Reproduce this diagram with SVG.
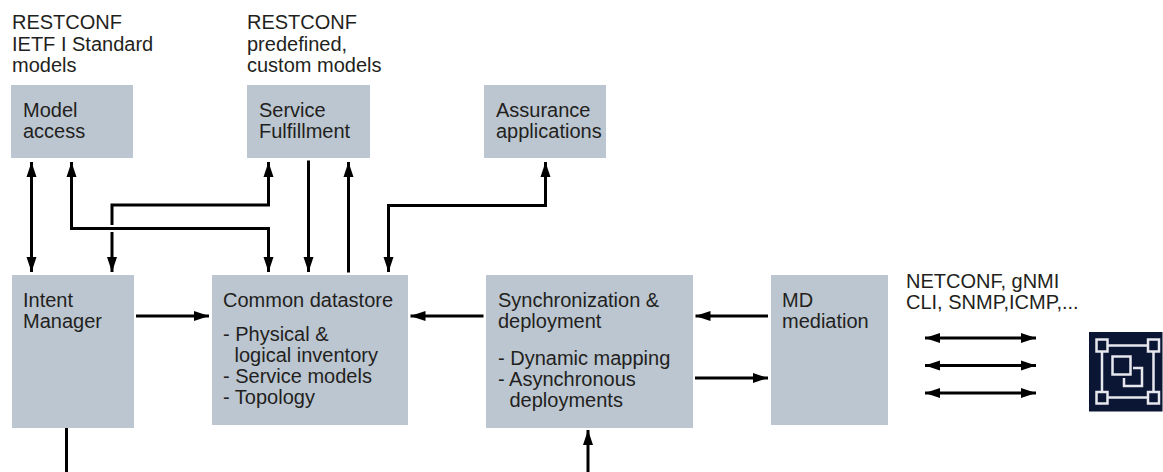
<svg xmlns="http://www.w3.org/2000/svg" width="1163" height="472" viewBox="0 0 1163 472">
<style>
.box{fill:#bbc6d1}
text{font-family:"Liberation Sans",Arial,sans-serif;font-size:20px;fill:#231f20}
.c{fill:none;stroke:#000;stroke-width:3}
.i{fill:none;stroke:#e6e8ee;stroke-width:2.500}
</style>
<defs>
<marker id="e" markerUnits="userSpaceOnUse" markerWidth="15" markerHeight="11" refX="15" refY="5.500" orient="auto"><path d="M0 0.500L15 5.500L0 10.500Z" fill="#000"/></marker>
<marker id="s" markerUnits="userSpaceOnUse" markerWidth="15" markerHeight="11" refX="0" refY="5.500" orient="auto"><path d="M15 0.500L0 5.500L15 10.500Z" fill="#000"/></marker>
</defs>
<text x="12" y="29">RESTCONF</text><text x="12" y="50.500">IETF I Standard</text><text x="12" y="72">models</text>
<text x="247" y="29">RESTCONF</text><text x="247" y="50.500">predefined,</text><text x="247" y="72">custom models</text>
<text x="906" y="288">NETCONF, gNMI</text><text x="906" y="309">CLI, SNMP,ICMP,...</text>
<g id="model-access"><rect class="box" x="11" y="85" width="122" height="73"/><text x="23" y="117">Model</text><text x="23" y="138">access</text></g>
<g id="service-fulfillment"><rect class="box" x="247" y="85" width="123" height="73"/><text x="259" y="117">Service</text><text x="259" y="138">Fulfillment</text></g>
<g id="assurance"><rect class="box" x="484" y="85" width="122" height="73"/><text x="496" y="117">Assurance</text><text x="496" y="138">applications</text></g>
<g id="intent-manager"><rect class="box" x="12" y="275" width="122" height="153"/><text x="23" y="306.500">Intent</text><text x="23" y="327.500">Manager</text></g>
<g id="common-datastore"><rect class="box" x="212" y="275" width="196" height="150"/><text x="223" y="306.500">Common datastore</text><text x="223" y="341">- Physical &amp;</text><text x="234.500" y="362">logical inventory</text><text x="223" y="383">- Service models</text><text x="223" y="404">- Topology</text></g>
<g id="sync"><rect class="box" x="486" y="275" width="207" height="153"/><text x="498" y="306.500">Synchronization &amp;</text><text x="498" y="327.500">deployment</text><text x="498" y="365">- Dynamic mapping</text><text x="498" y="386">- Asynchronous</text><text x="509.500" y="407">deployments</text></g>
<g id="md-mediation"><rect class="box" x="771" y="275" width="117" height="150"/><text x="782" y="306.500">MD</text><text x="782" y="327.500">mediation</text></g>
<g id="icon"><rect x="1089" y="332" width="73.500" height="79.500" fill="#0a1633"/>
<path class="i" d="M1102 352V392M1153.500 352V392M1108 345.500H1148M1108 397.500H1148"/>
<rect class="i" x="1096.500" y="339.500" width="11" height="12"/><rect class="i" x="1148" y="339.500" width="11" height="12"/><rect class="i" x="1096.500" y="392" width="11" height="11.500"/><rect class="i" x="1148" y="392" width="11" height="11.500"/>
<rect class="i" x="1112.500" y="356.500" width="18" height="18"/><path class="i" d="M1133 368H1142V386H1124V378"/></g>
<g id="connectors">
<path class="c" marker-start="url(#s)" marker-end="url(#e)" d="M31.500 162V272"/>
<path class="c" marker-start="url(#s)" marker-end="url(#e)" d="M268.500 162V205H112V272"/>
<path d="M110 225H114V232H110Z" fill="#fff"/>
<path class="c" marker-start="url(#s)" marker-end="url(#e)" d="M71.500 162V228.500H268.500V272"/>
<path class="c" marker-end="url(#e)" d="M308.500 160.500V272"/>
<path class="c" marker-end="url(#e)" d="M348.500 272.500V162"/>
<path class="c" marker-start="url(#s)" marker-end="url(#e)" d="M545.500 162V205.500H388.500V272"/>
<path class="c" marker-end="url(#e)" d="M136 316H209"/>
<path class="c" marker-end="url(#e)" d="M483.500 316H410.500"/>
<path class="c" marker-end="url(#e)" d="M768 316H695.500"/>
<path class="c" marker-end="url(#e)" d="M695 378H768"/>
<path class="c" marker-start="url(#s)" marker-end="url(#e)" d="M925 338H1036"/>
<path class="c" marker-start="url(#s)" marker-end="url(#e)" d="M925 365.500H1036"/>
<path class="c" marker-start="url(#s)" marker-end="url(#e)" d="M925 393H1036"/>
<path class="c" d="M66.500 428V472"/>
<path class="c" marker-end="url(#e)" d="M588 472V430"/>
</g>
</svg>
